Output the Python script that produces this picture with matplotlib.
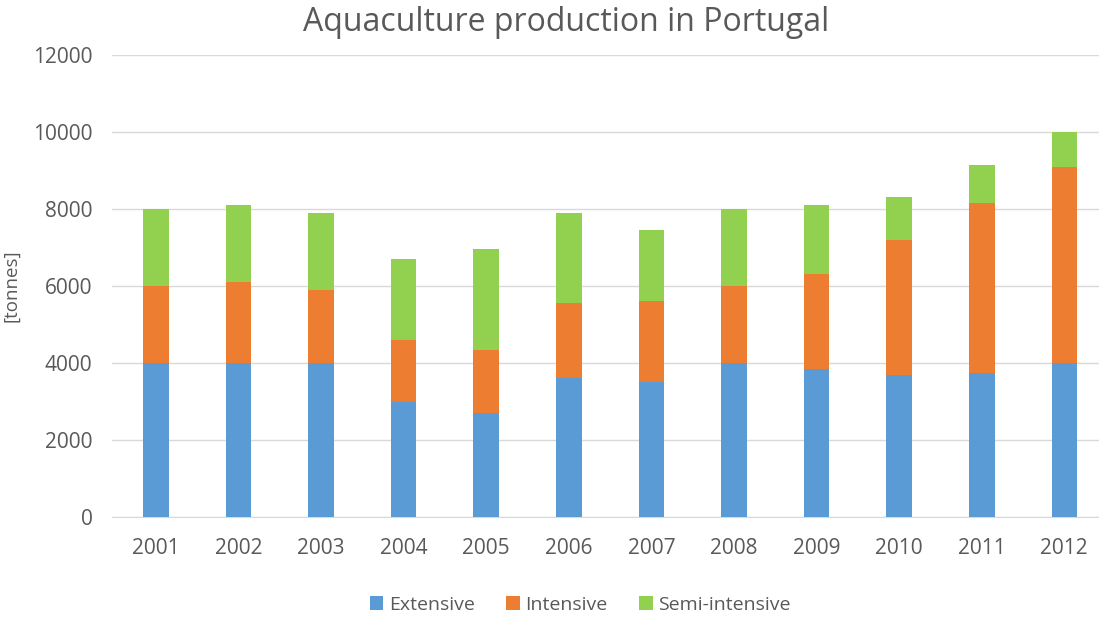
import matplotlib
matplotlib.use("Agg")
import matplotlib.pyplot as plt
import numpy as np

years = ["2001", "2002", "2003", "2004", "2005", "2006", "2007", "2008", "2009", "2010", "2011", "2012"]
extensive = [4000, 4000, 4000, 3000, 2700, 3600, 3500, 4000, 3850, 3700, 3750, 4000]
intensive = [2000, 2100, 1900, 1600, 1650, 1950, 2100, 2000, 2450, 3500, 4400, 5100]
semi_intensive = [2000, 2000, 2000, 2100, 2600, 2350, 1850, 2000, 1800, 1100, 1000, 900]
series_names = ["Extensive", "Intensive", "Semi-intensive"]
colors = ["#5B9BD5", "#ED7D31", "#92D050"]
yticks = [0, 2000, 4000, 6000, 8000, 10000, 12000]

plt.rcParams['font.family'] = ['Open Sans', 'DejaVu Sans']
text_color = "#595959"

fig = plt.figure(figsize=(10.99, 6.18), dpi=100)
ax = fig.add_axes([112/1099, 101/618, 987/1099, 462/618])

x = np.arange(len(years))
ext = np.array(extensive)
inte = np.array(intensive)
semi = np.array(semi_intensive)
w = 0.31
ax.bar(x, ext, w, color=colors[0], label=series_names[0], zorder=3)
ax.bar(x, inte, w, bottom=ext, color=colors[1], label=series_names[1], zorder=3)
ax.bar(x, semi, w, bottom=ext + inte, color=colors[2], label=series_names[2], zorder=3)

ax.set_xlim(-0.53, 11.42)
ax.set_ylim(0, 12000)
ax.set_yticks(yticks)
ax.set_yticklabels([str(v) for v in yticks])
ax.set_xticks(x)
ax.set_xticklabels(years)
ax.grid(axis='y', color='#d9d9d9', linewidth=1, zorder=0)
for s in ['top', 'right', 'left']:
    ax.spines[s].set_visible(False)
ax.spines['bottom'].set_color('#d9d9d9')
ax.tick_params(axis='both', length=0, labelsize=15, colors=text_color)
ax.tick_params(axis='x', pad=15)
ax.tick_params(axis='y', pad=14)
ax.set_ylabel("[tonnes]", fontsize=13.5, color=text_color)
ax.yaxis.set_label_coords(-92/987, 0.5)

fig.text(0.5155, 0.963, "Aquaculture production in Portugal", ha='center', va='center',
         fontsize=23, color=text_color)

leg = fig.legend(loc='center', bbox_to_anchor=(0.528, 0.021), ncol=3, frameon=False,
                 fontsize=14, handlelength=0.7, handleheight=0.7, handletextpad=0.3,
                 columnspacing=1.6, labelcolor=text_color)

fig.savefig("out.png", dpi=100)
